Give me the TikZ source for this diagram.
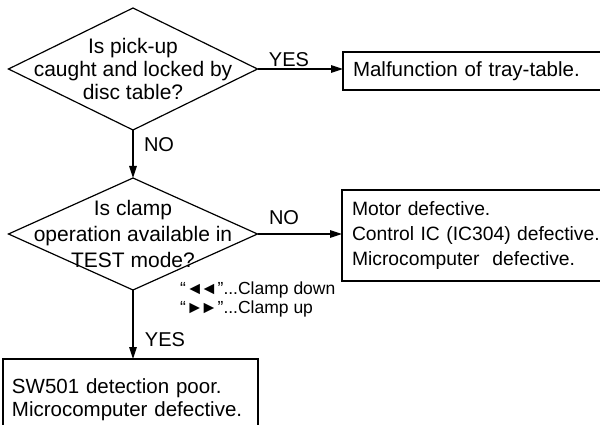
\documentclass[tikz,border=0pt]{standalone}
\usepackage{fontspec}
\setmainfont{Liberation Sans}
\usetikzlibrary{positioning,shapes.geometric,arrows.meta}

\begin{document}
\begin{tikzpicture}[x=1pt,y=-1pt,
		decisionnode/.style={diamond,draw,line width=1.2pt,inner sep=0pt,outer sep=0pt,minimum width=249pt},
		qtext/.style={align=center,inner sep=0pt,font=\fontsize{21}{23}\selectfont},
		boxnode/.style={draw,line width=1.2pt,anchor=north west,inner xsep=10pt,inner ysep=0pt,outer sep=0pt,align=left,font=\fontsize{20.5}{24}\selectfont},
		lbl/.style={inner sep=0pt,font=\fontsize{20}{22}\selectfont},
		notetext/.style={align=left,inner sep=0pt,anchor=north west,font=\fontsize{17.5}{19}\selectfont},
		flow/.style={line width=1.2pt,-{Triangle[length=12pt,width=7.5pt]}}]
		\useasboundingbox (0,0) rectangle (600,425);
		\clip (0,0) rectangle (600,425);

		\node[decisionnode,minimum height=122pt] 	(q1)	at (133,69)		{};
		\node[qtext] 								(t1)	at (q1)			{Is pick-up\\caught and locked by\\disc table?};
		\node[decisionnode,minimum height=112pt] 	(q2)	at (133,234)	{};
		\node[qtext,font=\fontsize{21}{26}\selectfont]	(t2)	at (q2)		{Is clamp\\operation available in\\TEST mode?};

		\node[boxnode,text width=300pt,minimum height=38pt] 	(b1)	at (343,52)		{Malfunction of tray-table.};
		\node[boxnode,text width=300pt,minimum height=91pt,font=\fontsize{19.3}{25}\selectfont] 	(b2)	at (342,190)	{Motor defective.\\Control IC (IC304) defective.\\Microcomputer\ \ defective.};
		\node[boxnode,inner xsep=9pt,text width=237pt,minimum height=82pt,font=\fontsize{20.5}{23}\selectfont] 	(b3)	at (3,359)		{SW501 detection poor.\\Microcomputer defective.};

		\node[notetext] 	(note)	at (180,282)	{“◄\kern-3pt◄”...Clamp down\\“►\kern-3pt►”...Clamp up};

		\node[lbl] 	(yes1)	at (289,60)		{YES};
		\node[lbl] 	(no1)	at (159,145)	{NO};
		\node[lbl] 	(no2)	at (284,218)	{NO};
		\node[lbl] 	(yes2)	at (165,340)	{YES};

		\draw[flow] (q1.east) -- (q1.east -| b1.west);
		\draw[flow] (q1.south) -- (q2.north);
		\draw[flow] (q2.east) -- (q2.east -| b2.west);
		\draw[flow] (q2.south) -- (q2.south |- b3.north);
	\end{tikzpicture}
\end{document}
